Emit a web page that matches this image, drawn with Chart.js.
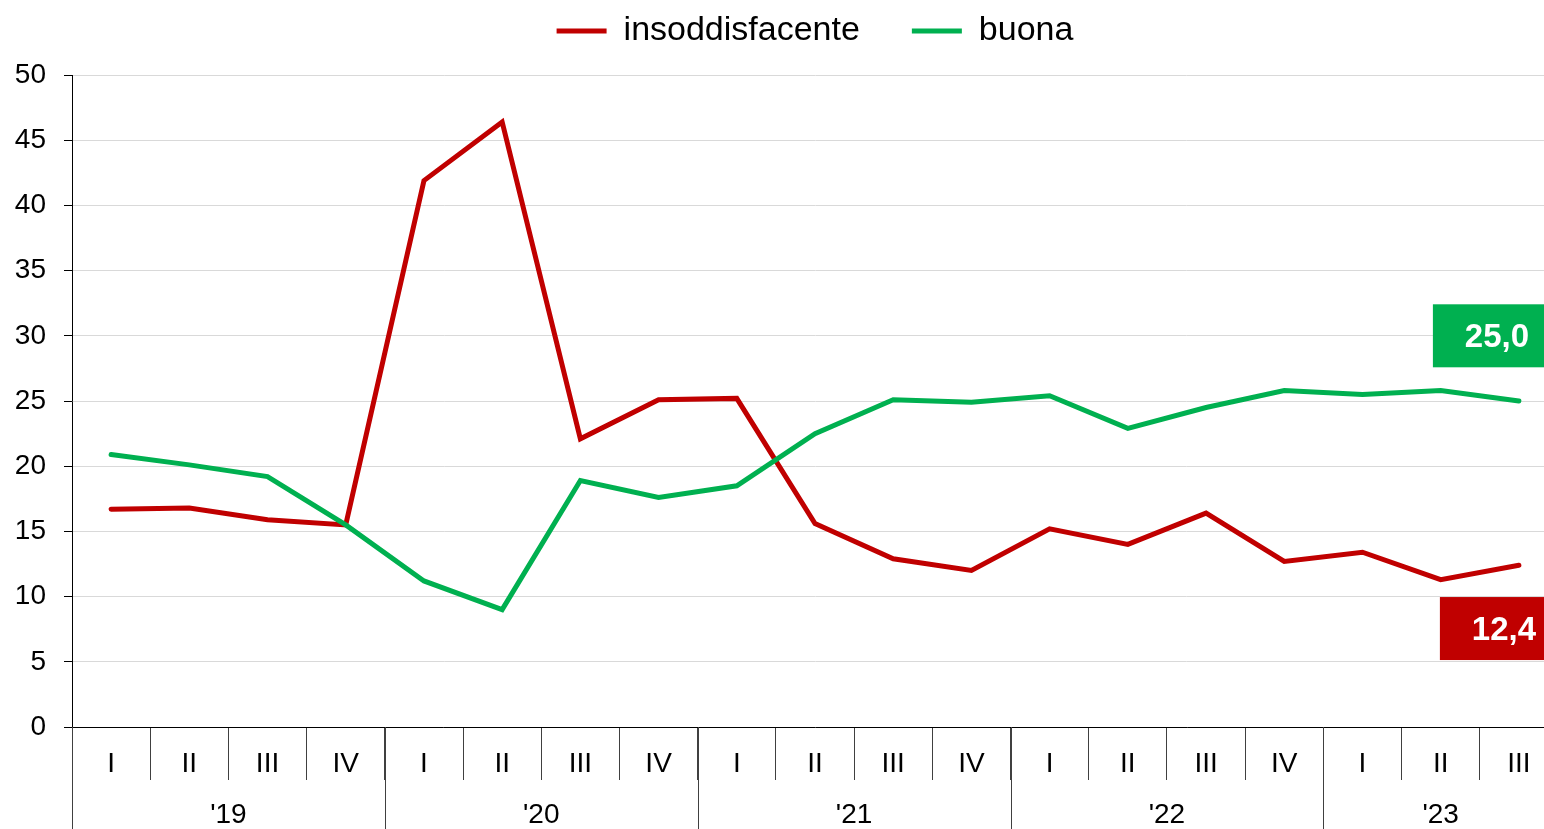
<!DOCTYPE html>
<html>
<head>
<meta charset="utf-8">
<script src="https://cdn.jsdelivr.net/npm/chart.js@4.4.1/dist/chart.umd.min.js"></script>
<style>
  html, body { margin: 0; padding: 0; background: #fff; overflow: hidden; }
  #wrap { width: 1558px; height: 829px; position: relative; }
</style>
</head>
<body>
<div id="wrap"><canvas id="chart"></canvas></div>
<script>
// DATI
const quarters = ['I', 'II', 'III', 'IV', 'I', 'II', 'III', 'IV', 'I', 'II', 'III', 'IV',
                  'I', 'II', 'III', 'IV', 'I', 'II', 'III'];
const years = ["'19", "'20", "'21", "'22", "'23"];
const quartersPerYear = [4, 4, 4, 4, 3];

const insoddisfacente = [16.7, 16.8, 15.9, 15.5, 41.9, 46.4, 22.1, 25.1, 25.2, 15.6, 12.9, 12.0,
                         15.2, 14.0, 16.4, 12.7, 13.4, 11.3, 12.4];
const buona = [20.9, 20.1, 19.2, 15.5, 11.2, 9.0, 18.9, 17.6, 18.5, 22.5, 25.1, 24.9,
               25.4, 22.9, 24.5, 25.8, 25.5, 25.8, 25.0];

const yTicks = [0, 5, 10, 15, 20, 25, 30, 35, 40, 45, 50];

const RED = '#c00000';
const GREEN = '#00b050';
const FONT = '"Liberation Sans", Arial, sans-serif';

const TOP_SHIFT = 38; // la legenda sale sopra il bordo

// altezza fissa della legenda
const legendHeight = {
    id: 'legendHeight',
    beforeInit(chart) {
        const origFit = chart.legend.fit;
        chart.legend.fit = function () {
            origFit.bind(chart.legend)();
            this.height = 75 + TOP_SHIFT;
        };
    }
};

// etichette anni e separatori
const yearAxis = {
    id: 'yearAxis',
    afterDraw(chart) {
        const { ctx, scales: { x } } = chart;
        const half = (x.getPixelForValue(1) - x.getPixelForValue(0)) / 2;
        ctx.save();
        ctx.strokeStyle = '#404040';
        ctx.lineWidth = 1;
        ctx.fillStyle = '#000';
        ctx.font = '28px ' + FONT;
        ctx.textAlign = 'center';
        ctx.textBaseline = 'middle';
        let start = 0;
        years.forEach((yr, i) => {
            const n = quartersPerYear[i];
            const left = x.getPixelForValue(start) - half;
            const right = x.getPixelForValue(start + n - 1) + half;
            const lx = Math.round(left) + 0.5;
            ctx.beginPath();
            ctx.moveTo(lx, x.top);
            ctx.lineTo(lx, chart.height);
            ctx.stroke();
            ctx.fillText(yr, (left + right) / 2, 815);
            start += n;
        });
        ctx.restore();
    }
};

// riquadri con l'ultimo valore
const lastValueBoxes = {
    id: 'lastValueBoxes',
    afterDatasetsDraw(chart) {
        const { ctx, scales: { x, y } } = chart;
        const last = quarters.length - 1;
        const px = x.getPixelForValue(last);
        const boxes = [
            { value: buona[last], center: buona[last] + 5, color: GREEN, dx: -86 },
            { value: insoddisfacente[last], center: insoddisfacente[last] - 4.85, color: RED, dx: -79 }
        ];
        ctx.save();
        boxes.forEach(b => {
            const cy = y.getPixelForValue(b.center);
            const left = px + b.dx;
            ctx.fillStyle = b.color;
            ctx.fillRect(left, cy - 31.5, chart.width - left, 63);
            ctx.fillStyle = '#fff';
            ctx.font = 'bold 33px ' + FONT;
            ctx.textAlign = 'center';
            ctx.textBaseline = 'middle';
            ctx.fillText(b.value.toFixed(1).replace('.', ','), left + 64, cy + 2);
        });
        ctx.restore();
    }
};

new Chart(document.getElementById('chart'), {
    type: 'line',
    data: {
        labels: quarters,
        datasets: [
            {
                label: 'insoddisfacente',
                data: insoddisfacente,
                borderColor: RED,
                backgroundColor: RED,
                borderWidth: 5,
                borderCapStyle: 'round',
                pointRadius: 0,
                tension: 0,
                order: 1
            },
            {
                label: 'buona',
                data: buona,
                borderColor: GREEN,
                backgroundColor: GREEN,
                borderWidth: 5,
                borderCapStyle: 'round',
                pointRadius: 0,
                tension: 0,
                order: 0
            }
        ]
    },
    options: {
        responsive: true,
        maintainAspectRatio: false,
        animation: false,
        layout: { padding: { left: 0, right: 0, top: -TOP_SHIFT, bottom: 0 } },
        scales: {
            x: {
                offset: true,
                grid: {
                    offset: true,
                    drawOnChartArea: false,
                    drawTicks: true,
                    tickLength: 53,
                    color: '#404040'
                },
                border: { color: '#000', width: 1 },
                ticks: {
                    color: '#000',
                    font: { size: 28, family: FONT },
                    padding: -33,
                    maxRotation: 0,
                    autoSkip: false
                },
                afterFit(scale) { scale.height = 102; }
            },
            y: {
                min: 0,
                max: 50,
                afterBuildTicks(scale) { scale.ticks = yTicks.map(v => ({ value: v })); },
                grid: {
                    color: '#d9d9d9',
                    tickColor: '#000',
                    tickLength: 8,
                    lineWidth: 1
                },
                border: { color: '#000', width: 1 },
                ticks: {
                    color: '#000',
                    font: { size: 28, family: FONT },
                    padding: 18
                },
                afterFit(scale) { scale.width = 72; }
            }
        },
        plugins: {
            legend: {
                position: 'top',
                fullSize: false,
                reverse: true,
                labels: {
                    usePointStyle: true,
                    pointStyle: 'line',
                    pointStyleWidth: 50,
                    color: '#000',
                    font: { size: 34, family: FONT },
                    padding: 52
                }
            },
            tooltip: { enabled: false }
        }
    },
    plugins: [legendHeight, yearAxis, lastValueBoxes]
});
</script>
</body>
</html>
